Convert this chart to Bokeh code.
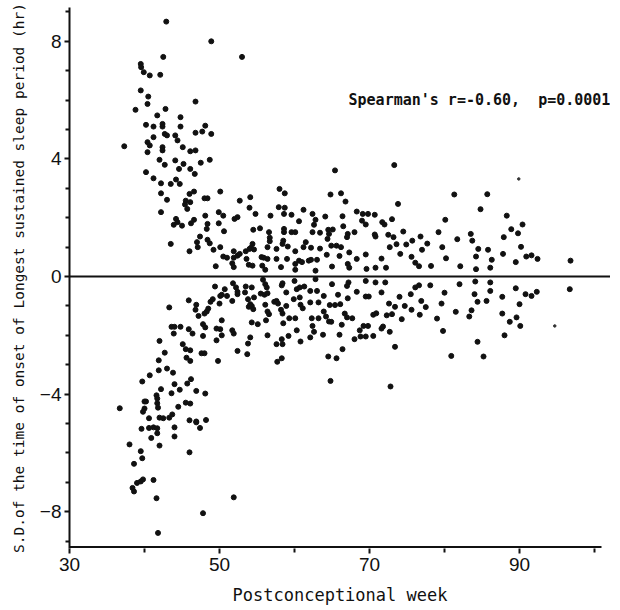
from bokeh.plotting import figure
from bokeh.models import Span, Label, FixedTicker
from bokeh.embed import file_html
from bokeh.resources import INLINE

# ---- data (week, S.D. in hours) ----
week_upper = [42.9, 48.9, 53.0, 42.5, 39.5, 39.55, 39.9, 40.7, 42.1, 39.5, 40.5, 38.8, 40.4, 42.8, 46.8,
              40.2, 41.7, 41.2, 42.4, 42.4, 44.8, 44.8, 48.1, 47.7, 46.8, 48.9, 42.7, 43.0, 44.1, 44.4,
              41.2, 37.3, 40.4, 40.7, 40.4, 42.4, 42.4, 45.1, 46.1, 46.8, 42.0, 44.1, 48.7, 45.2, 47.5,
              42.7, 40.2, 44.6, 46.1, 46.7, 41.2, 44.2, 42.2, 43.5, 44.7, 46.6, 42.2, 46.0, 50.1, 43.0,
              48.0, 48.4, 45.5, 46.1, 45.4, 45.7, 52.7, 54.1, 54.0, 58.0, 58.7, 57.9, 58.7, 61.2, 42.2,
              49.9, 54.8, 56.8, 58.6, 59.6, 44.2, 44.4, 48.1, 46.6, 50.5, 52.0, 52.4, 60.6, 43.9, 45.0,
              46.2, 49.9, 48.4, 48.3, 54.5, 55.4, 56.6, 50.6, 58.6, 58.6, 59.6, 60.1, 47.4, 56.7, 56.7,
              58.5, 58.4, 48.4, 48.7, 43.5, 47.0, 47.1, 54.4, 54.2, 61.5, 61.2, 57.6, 59.1, 60.1, 56.4,
              46.0, 49.2, 50.1, 51.9, 53.5, 54.0, 54.6, 50.5, 51.0, 49.5, 51.9, 52.4, 52.7, 51.7, 51.9,
              53.6, 53.9, 54.4, 55.6, 55.9, 56.4, 55.7, 56.1, 57.6, 59.0, 58.2, 60.1, 60.6, 61.0, 60.1,
              61.9,
              73.3, 65.4,
              64.8, 66.2, 66.8, 62.4, 62.8, 64.1, 66.4, 68.3, 69.1, 69.8, 69.0, 69.5, 62.6, 66.5, 62.4,
              63.4, 64.5, 65.1, 64.4, 64.6, 67.1, 67.0, 68.0, 62.2, 63.4, 64.9, 65.6, 66.2, 64.3, 66.0,
              67.3, 62.2, 63.0, 68.3, 69.5, 65.0, 67.1, 67.3, 62.8, 69.6,
              73.8, 70.7, 71.7, 72.0, 73.0, 70.7, 70.8, 72.5, 73.2, 74.5, 72.7, 73.6, 74.9, 75.7, 76.8,
              77.7, 77.0, 74.1, 71.6, 75.6, 76.1, 76.6, 70.8, 72.2, 78.2, 79.2, 80.1, 81.3, 79.7, 80.2,
              81.7, 82.1, 83.5, 83.7, 84.5, 84.2, 84.2, 84.8, 85.7, 85.8, 86.1,
              88.3, 90.4, 88.9, 89.8, 87.9, 90.2, 87.8, 90.9, 91.6, 92.4, 86.3, 89.5, 96.8]
sd_upper = [8.67, 8.0, 7.47, 7.47, 7.23, 7.12, 6.95, 6.84, 6.86, 6.33, 6.12, 5.67, 5.87, 5.70, 5.95,
            5.16, 5.48, 5.10, 5.19, 5.10, 5.42, 5.10, 5.13, 4.93, 4.89, 4.85, 4.85, 4.80, 4.80, 4.63,
            4.74, 4.43, 4.57, 4.46, 4.23, 4.40, 4.29, 4.40, 4.26, 4.29, 3.97, 3.95, 3.97, 3.83, 3.87,
            3.80, 3.55, 3.66, 3.66, 3.49, 3.34, 3.30, 3.17, 3.15, 3.15, 2.89, 2.83, 2.81, 2.89, 2.61,
            2.66, 2.66, 2.58, 2.53, 2.45, 2.30, 2.58, 2.70, 2.34, 2.98, 2.83, 2.36, 2.34, 2.27, 2.19,
            2.19, 2.13, 2.07, 2.13, 2.10, 1.96, 1.85, 2.07, 1.93, 2.07, 1.96, 2.02, 1.88, 1.76, 1.73,
            1.81, 1.81, 1.79, 1.62, 1.59, 1.64, 1.51, 1.54, 1.62, 1.51, 1.51, 1.51, 1.36, 1.32, 1.20,
            1.22, 1.11, 1.25, 1.13, 1.11, 1.17, 1.00, 1.11, 0.98, 1.17, 1.00, 0.94, 1.02, 0.86, 1.00,
            0.86, 0.91, 1.00, 0.86, 0.86, 0.94, 0.92, 0.68, 0.64, 0.35, 0.64, 0.71, 0.77, 0.45, 0.32,
            0.60, 0.40, 0.37, 0.66, 0.64, 0.60, 0.37, 0.23, 0.60, 0.60, 0.32, 0.43, 0.54, 0.49, 0.23,
            0.54,
            3.79, 3.61,
            2.79, 2.83, 2.55, 2.13, 1.93, 2.04, 2.05, 2.21, 2.13, 2.13, 1.90, 1.77, 1.76, 1.71, 1.51,
            1.49, 1.59, 1.60, 1.28, 1.45, 1.45, 1.34, 1.51, 0.98, 0.95, 1.05, 1.05, 1.00, 0.74, 0.70,
            0.82, 0.57, 0.57, 0.60, 0.75, 0.34, 0.43, 0.30, 0.20, 0.26,
            2.47, 2.10, 1.85, 1.77, 1.95, 1.43, 1.36, 1.42, 1.34, 1.53, 1.00, 1.10, 1.09, 1.22, 1.36,
            1.12, 0.91, 0.77, 0.61, 0.67, 0.47, 0.35, 0.30, 0.30, 0.36, 1.51, 1.93, 2.79, 1.00, 0.62,
            1.27, 0.35, 1.45, 1.22, 0.94, 0.68, 0.25, 2.29, 2.80, 0.91, 0.30,
            2.07, 1.77, 1.61, 1.47, 1.34, 1.01, 0.77, 0.68, 0.72, 0.60, 0.57, 0.49, 0.54]

week_lower = [49.4, 50.7, 51.8, 52.2, 52.4, 53.5, 50.1, 50.3, 51.0, 49.1, 48.8, 52.4, 53.4, 53.8, 51.7,
              45.9, 46.9, 46.8, 43.3, 48.5, 48.3, 48.0, 50.0, 47.2, 50.3, 53.9, 47.8, 48.1, 43.6, 44.0,
              44.8, 43.9, 45.9, 46.4, 49.6, 50.1, 47.8, 51.7, 51.9, 50.3, 49.6, 42.0, 45.1, 45.5, 46.1,
              42.7, 47.6, 48.0, 52.4, 53.7, 45.6, 46.1, 49.8, 41.9, 41.9, 43.0, 43.8, 40.7, 39.7, 46.2,
              44.0, 45.7, 42.2, 44.7, 43.6, 46.9, 48.1, 41.6, 41.7, 40.0, 40.2, 41.7, 41.8, 45.5, 46.1,
              40.0, 39.8, 44.5, 43.7, 40.6, 42.0, 42.5, 43.3, 46.0, 46.9, 48.2, 53.8,
              55.8, 56.1, 56.3, 55.5, 56.0, 56.4, 54.3, 54.6, 58.3, 58.4, 60.0, 60.3, 60.7, 61.3, 62.8,
              62.1, 63.0, 58.9, 65.0, 67.0, 67.2, 69.5, 54.1, 54.3, 54.5, 56.1, 57.3, 57.6, 57.8, 58.2,
              58.4, 56.4, 56.6, 58.9, 59.9, 60.7, 60.8, 61.1, 62.1, 63.2, 63.9, 64.7, 65.4, 66.1, 65.8,
              67.1, 68.3, 69.5, 69.9, 54.3, 55.1, 56.2, 58.5, 59.3, 60.1, 62.3, 63.2, 63.9, 64.2, 64.6,
              64.9, 66.7, 67.0, 67.7, 62.4, 62.6, 60.3, 66.3, 69.2, 69.8, 68.7, 54.1, 56.4, 59.2, 60.8,
              62.1, 63.8, 66.0, 68.0, 68.8, 69.5, 57.6, 58.3, 58.4, 66.4, 64.5, 65.6, 58.3, 57.7, 64.8,
              70.8, 72.1, 71.6, 76.1, 76.6, 78.1, 82.0, 84.1, 86.1, 72.6, 73.4, 74.0, 74.7, 75.5, 75.6,
              76.9, 77.5, 80.0, 79.6, 84.0, 84.4, 86.1, 85.6, 70.5, 70.9, 72.3, 73.0, 74.3, 76.7, 79.0,
              81.5, 83.3, 83.6, 71.6, 71.8, 70.5, 72.7, 79.8, 73.4, 84.4, 80.9, 85.2, 72.8,
              89.5, 90.8, 91.6, 92.3, 96.7, 87.7, 90.0, 87.7, 89.6, 88.7, 90.1, 88.0,
              36.7, 38.0, 38.6, 38.4, 38.6, 39.0, 39.5, 39.8, 39.5, 39.7, 39.6, 40.6, 40.9, 41.2, 41.7,
              41.7, 42.0, 41.2, 41.6, 41.8, 44.0, 44.0, 46.0, 46.9, 47.4, 47.8, 51.9]
sd_lower = [-0.34, -0.43, -0.23, -0.37, -0.52, -0.34, -0.66, -0.62, -0.66, -0.77, -0.86, -0.60, -0.54, -0.77, -0.83,
            -0.81, -0.96, -1.13, -1.05, -1.09, -1.19, -1.26, -0.92, -1.34, -1.49, -1.03, -1.62, -1.73, -1.71, -1.71,
            -1.71, -1.94, -1.79, -1.94, -1.77, -1.79, -2.02, -1.83, -1.94, -2.00, -2.17, -2.19, -2.30, -2.47, -2.51,
            -2.59, -2.61, -2.61, -2.53, -2.64, -2.76, -2.87, -2.87, -2.85, -3.19, -3.13, -3.27, -3.36, -3.57, -3.49,
            -3.66, -3.64, -3.83, -3.85, -3.97, -3.89, -3.98, -4.04, -4.15, -4.25, -4.25, -4.31, -4.46, -4.29, -4.32,
            -4.49, -4.60, -4.43, -4.69, -4.82, -4.80, -4.82, -4.80, -4.89, -4.93, -4.88, -2.28,
            -0.11, -0.26, -0.37, -0.58, -0.62, -0.57, -0.37, -0.71, -0.30, -0.23, -0.15, -0.43, -0.37, -0.34, -0.09,
            -0.49, -0.49, -0.54, -0.26, -0.32, -0.20, -0.15, -0.94, -1.00, -1.11, -0.96, -0.86, -0.83, -0.92, -1.13,
            -1.26, -1.19, -1.28, -1.00, -0.77, -0.71, -0.96, -1.08, -0.88, -0.88, -0.66, -0.97, -0.97, -0.94, -0.62,
            -0.74, -0.52, -0.68, -0.68, -1.56, -1.62, -1.49, -1.59, -1.42, -1.42, -1.42, -1.42, -1.19, -1.36, -1.53,
            -1.54, -1.26, -1.39, -1.42, -1.68, -1.88, -1.83, -1.64, -1.68, -1.68, -1.83, -2.07, -2.00, -2.02, -2.21,
            -2.07, -1.98, -1.98, -2.13, -2.04, -2.04, -2.30, -2.13, -2.30, -2.47, -2.72, -2.78, -2.78, -2.90, -3.55,
            -0.20, -0.20, -0.54, -0.37, -0.30, -0.30, -0.26, -0.17, -0.20, -0.92, -1.03, -0.69, -1.00, -0.60, -1.13,
            -0.83, -1.04, -0.55, -0.92, -0.60, -0.86, -0.49, -0.83, -1.30, -1.25, -1.32, -1.28, -1.45, -1.30, -1.43,
            -1.20, -1.36, -1.15, -1.77, -1.70, -2.02, -1.88, -1.85, -2.39, -2.22, -2.70, -2.72, -3.74,
            -0.40, -0.60, -0.66, -0.52, -0.43, -0.69, -0.94, -1.26, -1.39, -1.54, -1.68, -2.00,
            -4.48, -5.71, -6.37, -7.19, -7.31, -7.02, -6.97, -6.90, -5.94, -6.18, -5.18, -5.15, -5.49, -5.13, -5.16,
            -5.33, -5.75, -6.92, -7.54, -8.72, -5.13, -5.44, -5.98, -4.96, -5.15, -8.05, -7.51]

week_faint = [89.9, 94.7]
sd_faint = [3.32, -1.68]

x_major = [30, 50, 70, 90]
x_minor = [40, 60, 80, 100]
y_major = [-8, -4, 0, 4, 8]
y_minor = [-9, -7, -6, -5, -3, -2, -1, 1, 2, 3, 5, 6, 7, 9]
x_axis_span = [30, 100.93]     # drawn extent of the bottom axis line
y_axis_floor = -9.2

annotation = "Spearman's r=-0.60,\u00a0 p=0.0001"
x_title = "Postconceptional week"
y_title = "S.D.of the time of onset of Longest sustained sleep period (hr)"

INK = "#111111"

p = figure(frame_width=541, frame_height=541,
           x_range=(30, 102.13), y_range=(-9.25, 9.15),
           output_backend="svg", toolbar_location=None,
           min_border_left=69, min_border_right=0, min_border_top=7, min_border_bottom=62,
           background_fill_color="white", border_fill_color="white")
p.outline_line_color = None
p.grid.visible = False

p.scatter(week_upper, sd_upper, size=5, color=INK, marker="circle")
p.scatter(week_lower, sd_lower, size=5, color=INK, marker="circle")
p.scatter(week_faint, sd_faint, size=2.5, color="#333333", marker="circle")

# zero reference line and the bottom axis line
p.add_layout(Span(location=0, dimension="width", line_color=INK, line_width=2))
p.line(x_axis_span, [y_axis_floor, y_axis_floor], line_color=INK, line_width=2)

p.add_layout(Label(x=67.2, y=6.02, text=annotation, text_font="DejaVu Sans Mono",
                   text_font_size="15px", text_font_style="bold", text_color=INK,
                   text_baseline="alphabetic"))

p.xaxis.ticker = FixedTicker(ticks=x_major, minor_ticks=x_minor)
p.yaxis.ticker = FixedTicker(ticks=y_major, minor_ticks=y_minor)
p.yaxis.major_label_overrides = {-8: "\u22128", -4: "\u22124"}

for ax in (p.xaxis[0], p.yaxis[0]):
    ax.axis_line_color = INK
    ax.axis_line_width = 2
    ax.major_tick_line_color = INK
    ax.major_tick_line_width = 2
    ax.minor_tick_line_color = INK
    ax.minor_tick_line_width = 2
    ax.major_tick_in = 0
    ax.major_tick_out = 5
    ax.minor_tick_in = 0
    ax.minor_tick_out = 4
    ax.major_label_text_font = "Liberation Sans"
    ax.major_label_text_font_size = "19px"
    ax.major_label_text_color = INK
    ax.axis_label_text_font = "DejaVu Sans Mono"
    ax.axis_label_text_font_style = "normal"
    ax.axis_label_text_color = INK

p.xaxis.axis_line_color = None
p.xaxis.axis_label = x_title
p.xaxis.axis_label_text_font_size = "17px"
p.xaxis.major_label_standoff = 4
p.xaxis.axis_label_standoff = 11

p.yaxis.axis_label = y_title
p.yaxis.axis_label_text_font_size = "14.5px"
p.yaxis.major_label_standoff = 3
p.yaxis.axis_label_standoff = 10

open("out.html", "w").write(file_html(p, INLINE))
